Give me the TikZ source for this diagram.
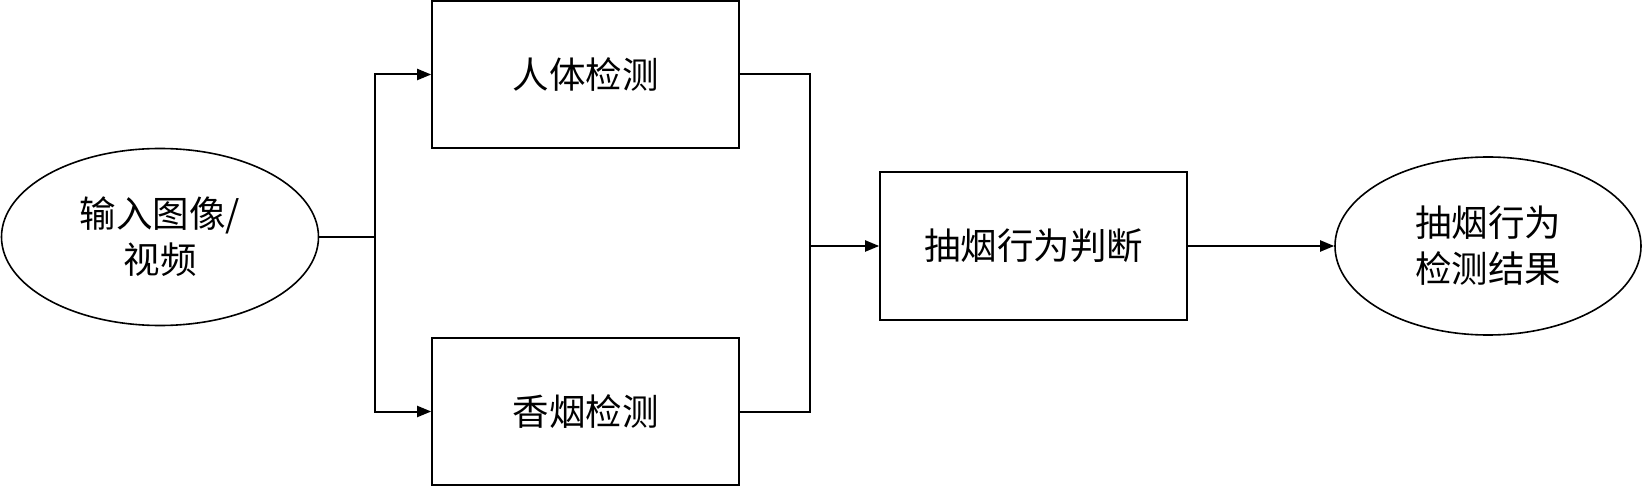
\documentclass[tikz,border=0pt]{standalone}
\usepackage{fontspec}
\newfontfamily\cjk{Noto Sans CJK SC}[FakeStretch=1]
\usetikzlibrary{shapes.geometric,arrows.meta}
\begin{document}
\begin{tikzpicture}[x=1pt,y=-1pt,
  every node/.style={font=\cjk\fontsize{36.5}{46}\selectfont, align=center, line width=1.6pt},
  boxnode/.style={draw, rectangle, minimum width=307pt, minimum height=147pt, inner sep=0pt},
  ellnode/.style={draw, ellipse, inner sep=0pt},
  line/.style={line width=2pt},
  arr/.style={line width=2pt, -{Triangle[length=14pt,width=11pt]}}]
\useasboundingbox (0,0) rectangle (1644,486);
\node[ellnode, minimum width=317pt, minimum height=177pt] (in) at (160,237) {输入图像/\\视频};
\node[boxnode] (body) at (585.5,74.5) {人体检测};
\node[boxnode] (cig) at (585.5,411.5) {香烟检测};
\node[boxnode, minimum height=148pt] (judge) at (1033.5,246) {抽烟行为判断};
\node[ellnode, minimum width=306pt, minimum height=178pt] (out) at (1488,246) {抽烟行为\\检测结果};
\coordinate (split) at (375,237);
\coordinate (join) at (810,246);
\draw[line] (in.east) -- (split);
\draw[arr] (split) |- (body.west);
\draw[arr] (split) |- (cig.west);
\draw[line] (body.east) -| (join);
\draw[line] (cig.east) -| (join);
\draw[arr] (join) -- (judge.west);
\draw[arr] (judge.east) -- (out.west);
\end{tikzpicture}
\end{document}
